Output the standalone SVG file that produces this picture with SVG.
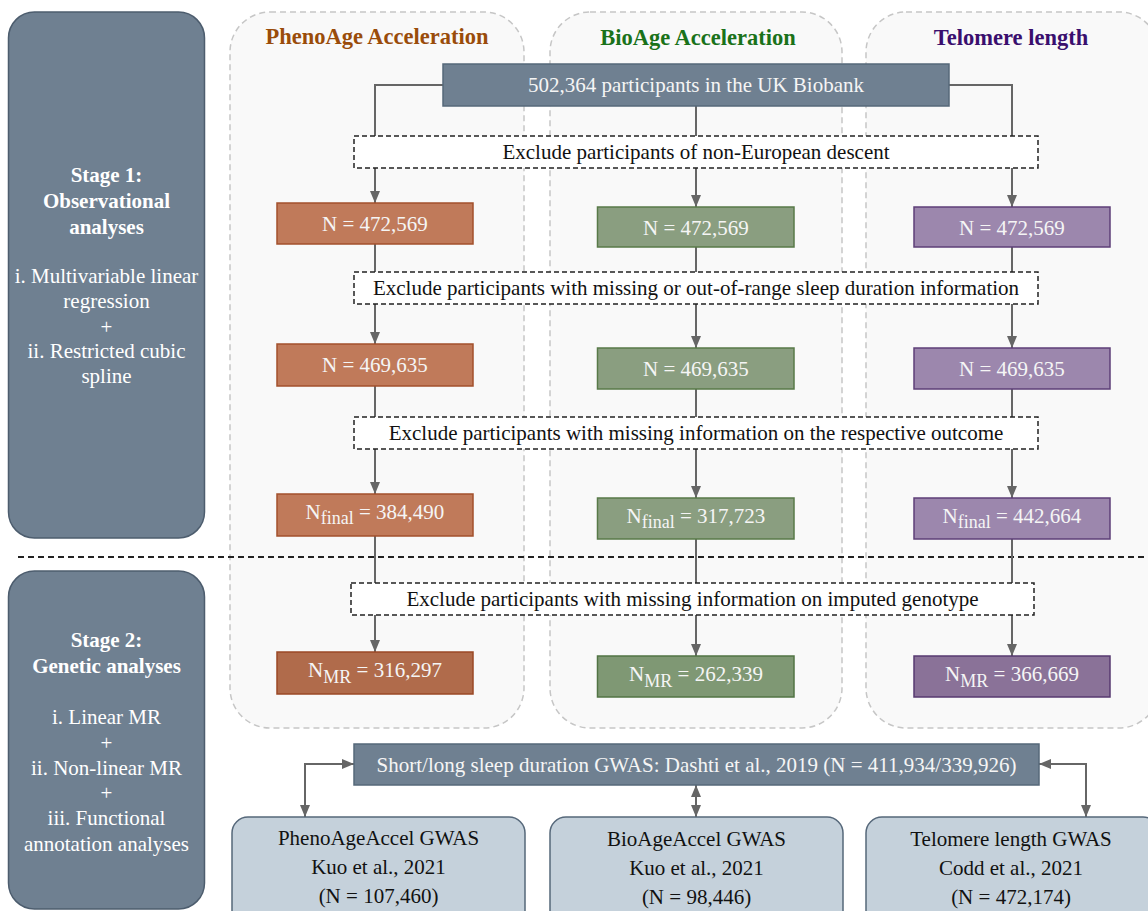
<svg xmlns="http://www.w3.org/2000/svg" width="1148" height="911" viewBox="0 0 1148 911">
<style>
text{font-family:"Liberation Serif","Times New Roman",serif;font-size:21px;text-anchor:middle}
.stage{fill:#6f8091;stroke:#4d5d6e;stroke-width:1.5}
.stxt{fill:#ffffff}
.b{font-weight:bold}
.panel{fill:#f9f9f9;stroke:#c6c6c6;stroke-width:1.5;stroke-dasharray:6 4}
.top{fill:#6f8091;stroke:#56687a;stroke-width:1.5}
.excl{fill:#ffffff;stroke:#222;stroke-width:1.5;stroke-dasharray:5 3}
.pheno{fill:#c07a5a;stroke:#a3502c;stroke-width:1.5}
.pheno4{fill:#b06b4b;stroke:#9a4826;stroke-width:1.5}
.bio{fill:#8a9e80;stroke:#587a48;stroke-width:1.5}
.bio4{fill:#7f9874;stroke:#527444;stroke-width:1.5}
.tel{fill:#9c87ad;stroke:#5e3f78;stroke-width:1.5}
.tel4{fill:#8a7298;stroke:#573a70;stroke-width:1.5}
.gw{fill:#c5d1db;stroke:#56687a;stroke-width:1.5}
.wt{fill:#f5f5f5}
.bk{fill:#111}
.conn{fill:none;stroke:#666;stroke-width:2}
.sub{font-size:18px}
</style>
<defs>
<marker id="arr" viewBox="0 0 12 10" refX="12" refY="5" markerWidth="12" markerHeight="10" markerUnits="userSpaceOnUse" orient="auto-start-reverse"><path d="M0,0 L12,5 L0,10 z" fill="#666"/></marker>
</defs>

<g id="panels">
<rect class="panel" x="230" y="12" width="294" height="716" rx="40"/>
<rect class="panel" x="550" y="12" width="292" height="716" rx="40"/>
<rect class="panel" x="866" y="12" width="293" height="716" rx="40"/>
<text class="b" x="377" y="44" style="font-size:22.5px;fill:#9a4c0a">PhenoAge Acceleration</text>
<text class="b" x="698" y="45" style="font-size:22.5px;fill:#1a721a">BioAge Acceleration</text>
<text class="b" x="1011" y="45" style="font-size:22.5px;fill:#3a0f6e">Telomere length</text>
</g>

<line x1="18" y1="557" x2="1148" y2="557" stroke="#222" stroke-width="1.8" stroke-dasharray="6 4"/>

<g id="stage1">
<rect class="stage" x="8.5" y="12" width="196" height="526" rx="26"/>
<text class="stxt b" x="106.5" y="182">Stage 1:</text>
<text class="stxt b" x="106.5" y="208">Observational</text>
<text class="stxt b" x="106.5" y="234">analyses</text>
<text class="stxt" x="106.5" y="283">i. Multivariable linear</text>
<text class="stxt" x="106.5" y="308">regression</text>
<text class="stxt" x="106.5" y="334">+</text>
<text class="stxt" x="106.5" y="358">ii. Restricted cubic</text>
<text class="stxt" x="106.5" y="383">spline</text>
</g>

<g id="stage2">
<rect class="stage" x="8.5" y="571" width="196" height="338" rx="26"/>
<text class="stxt b" x="106.5" y="647">Stage 2:</text>
<text class="stxt b" x="106.5" y="673">Genetic analyses</text>
<text class="stxt" x="106.5" y="724">i. Linear MR</text>
<text class="stxt" x="106.5" y="750">+</text>
<text class="stxt" x="106.5" y="775">ii. Non-linear MR</text>
<text class="stxt" x="106.5" y="800">+</text>
<text class="stxt" x="106.5" y="825">iii. Functional</text>
<text class="stxt" x="106.5" y="851">annotation analyses</text>
</g>

<g id="connectors">
<path class="conn" d="M443,85 H375 V136"/>
<path class="conn" d="M696,106 V136"/>
<path class="conn" d="M949,85 H1012 V136"/>
<path class="conn" d="M375,168 V203" marker-end="url(#arr)"/>
<path class="conn" d="M696,168 V207" marker-end="url(#arr)"/>
<path class="conn" d="M1012,168 V207" marker-end="url(#arr)"/>
<path class="conn" d="M375,244 V272"/>
<path class="conn" d="M696,247 V272"/>
<path class="conn" d="M1012,247 V272"/>
<path class="conn" d="M375,304 V344" marker-end="url(#arr)"/>
<path class="conn" d="M696,304 V348" marker-end="url(#arr)"/>
<path class="conn" d="M1012,304 V348" marker-end="url(#arr)"/>
<path class="conn" d="M375,386 V417"/>
<path class="conn" d="M696,389 V417"/>
<path class="conn" d="M1012,389 V417"/>
<path class="conn" d="M375,449 V494" marker-end="url(#arr)"/>
<path class="conn" d="M696,449 V498" marker-end="url(#arr)"/>
<path class="conn" d="M1012,449 V498" marker-end="url(#arr)"/>
<path class="conn" d="M375,536 V583"/>
<path class="conn" d="M696,539 V583"/>
<path class="conn" d="M1012,539 V583"/>
<path class="conn" d="M375,615 V652" marker-end="url(#arr)"/>
<path class="conn" d="M696,615 V656" marker-end="url(#arr)"/>
<path class="conn" d="M1012,615 V656" marker-end="url(#arr)"/>
<path class="conn" d="M354,764 H305 V817" marker-start="url(#arr)" marker-end="url(#arr)"/>
<path class="conn" d="M696,785 V817" marker-start="url(#arr)" marker-end="url(#arr)"/>
<path class="conn" d="M1039,764 H1086 V817" marker-start="url(#arr)" marker-end="url(#arr)"/>
</g>

<g id="ukb">
<rect class="top" x="443" y="64" width="506" height="42"/>
<text class="wt" x="696" y="92">502,364 participants in the UK Biobank</text>
</g>

<g id="excl1">
<rect class="excl" x="354" y="136" width="684" height="32"/>
<text class="bk" x="696" y="159">Exclude participants of non-European descent</text>
</g>
<g id="excl2">
<rect class="excl" x="354" y="272" width="684" height="32"/>
<text class="bk" x="696" y="295">Exclude participants with missing or out-of-range sleep duration information</text>
</g>
<g id="excl3">
<rect class="excl" x="354" y="417" width="684" height="32"/>
<text class="bk" x="696" y="440">Exclude participants with missing information on the respective outcome</text>
</g>
<g id="excl4">
<rect class="excl" x="351" y="583" width="683" height="32"/>
<text class="bk" x="692.5" y="606">Exclude participants with missing information on imputed genotype</text>
</g>

<g id="pheno1"><rect class="pheno" x="277" y="203" width="196" height="41"/><text class="wt" x="375" y="231">N = 472,569</text></g>
<g id="bio1"><rect class="bio" x="597.5" y="207" width="196.5" height="40"/><text class="wt" x="696" y="235">N = 472,569</text></g>
<g id="tel1"><rect class="tel" x="914" y="207" width="196" height="40"/><text class="wt" x="1012" y="235">N = 472,569</text></g>

<g id="pheno2"><rect class="pheno" x="277" y="344" width="196" height="42"/><text class="wt" x="375" y="372">N = 469,635</text></g>
<g id="bio2"><rect class="bio" x="597.5" y="348" width="196.5" height="41"/><text class="wt" x="696" y="376">N = 469,635</text></g>
<g id="tel2"><rect class="tel" x="914" y="348" width="196" height="41"/><text class="wt" x="1012" y="376">N = 469,635</text></g>

<g id="pheno3"><rect class="pheno" x="277" y="494" width="196" height="42"/><text class="wt" x="375" y="519">N<tspan class="sub" dy="5">final</tspan><tspan dy="-5"> = 384,490</tspan></text></g>
<g id="bio3"><rect class="bio" x="597.5" y="498" width="196.5" height="41"/><text class="wt" x="696" y="523">N<tspan class="sub" dy="5">final</tspan><tspan dy="-5"> = 317,723</tspan></text></g>
<g id="tel3"><rect class="tel" x="914" y="498" width="196" height="41"/><text class="wt" x="1012" y="523">N<tspan class="sub" dy="5">final</tspan><tspan dy="-5"> = 442,664</tspan></text></g>

<g id="pheno4"><rect class="pheno4" x="277" y="652" width="196" height="42"/><text class="wt" x="375" y="677">N<tspan class="sub" dy="6">MR</tspan><tspan dy="-6"> = 316,297</tspan></text></g>
<g id="bio4"><rect class="bio4" x="597.5" y="656" width="196.5" height="41"/><text class="wt" x="696" y="681">N<tspan class="sub" dy="6">MR</tspan><tspan dy="-6"> = 262,339</tspan></text></g>
<g id="tel4"><rect class="tel4" x="914" y="656" width="196" height="41"/><text class="wt" x="1012" y="681">N<tspan class="sub" dy="6">MR</tspan><tspan dy="-6"> = 366,669</tspan></text></g>

<g id="gwas">
<rect class="top" x="354" y="744" width="685" height="41"/>
<text class="wt" x="696.5" y="772">Short/long sleep duration GWAS: Dashti et al., 2019 (N = 411,934/339,926)</text>
</g>

<g id="gwas-pheno">
<rect class="gw" x="232" y="817" width="293" height="115" rx="16"/>
<text class="bk" x="378.5" y="845">PhenoAgeAccel GWAS</text>
<text class="bk" x="378.5" y="874">Kuo et al., 2021</text>
<text class="bk" x="378.5" y="903">(N = 107,460)</text>
</g>
<g id="gwas-bio">
<rect class="gw" x="550" y="817" width="293" height="115" rx="16"/>
<text class="bk" x="696.5" y="846">BioAgeAccel GWAS</text>
<text class="bk" x="696.5" y="875">Kuo et al., 2021</text>
<text class="bk" x="696.5" y="904">(N = 98,446)</text>
</g>
<g id="gwas-tel">
<rect class="gw" x="866" y="817" width="293" height="115" rx="16"/>
<text class="bk" x="1011" y="846">Telomere length GWAS</text>
<text class="bk" x="1011" y="875">Codd et al., 2021</text>
<text class="bk" x="1011" y="904">(N = 472,174)</text>
</g>
</svg>
